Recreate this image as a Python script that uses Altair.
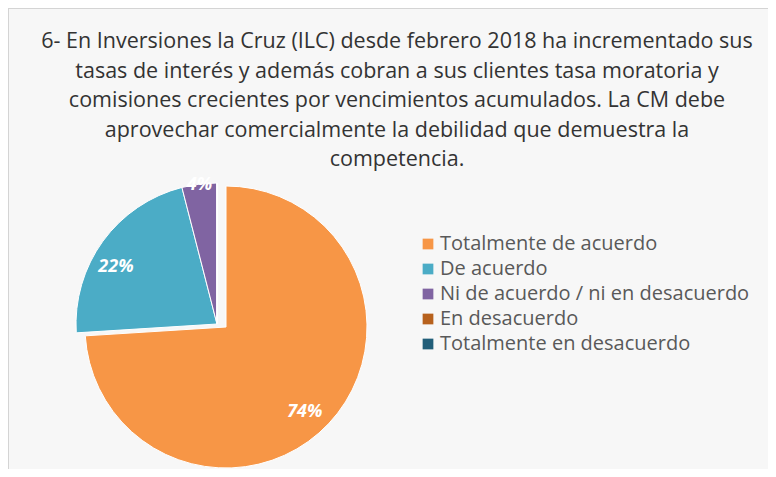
import altair as alt
import pandas as pd

categories = [
    "Totalmente de acuerdo",
    "De acuerdo",
    "Ni de acuerdo / ni en desacuerdo",
    "En desacuerdo",
    "Totalmente en desacuerdo",
]
values = [74, 22, 4, 0, 0]
labels = ["74%", "22%", "4%", "", ""]
colors = ["#F79646", "#4BACC6", "#8064A2", "#B7611D", "#215E79"]

title_lines = [
    "6- En Inversiones la Cruz (ILC) desde febrero 2018 ha incrementado sus",
    "tasas de interés y además cobran a sus clientes tasa moratoria y",
    "comisiones crecientes por vencimientos acumulados. La CM debe",
    "aprovechar comercialmente la debilidad que demuestra la",
    "competencia.",
]

df = pd.DataFrame({
    "cat": categories,
    "value": values,
    "label": labels,
    "order": list(range(len(categories))),
})

FONT = "Open Sans"
theta_scale = alt.Scale(domain=[0, 100])
color = alt.Color(
    "cat:N",
    scale=alt.Scale(domain=categories, range=colors),
    sort=categories,
    legend=alt.Legend(
        title=None,
        orient="none",
        legendX=410,
        legendY=226,
        symbolType="square",
        symbolSize=115,
        symbolStrokeWidth=0,
        symbolOpacity=1,
        labelFontSize=20,
        labelFont=FONT,
        labelColor="#595959",
        rowPadding=5,
        labelLimit=400,
        symbolOffset=0,
        labelOffset=2,
    ),
)

base = alt.Chart(df).transform_window(
    end="sum(value)", sort=[alt.SortField("order")], frame=[None, 0]
).transform_calculate(
    start="datum.end - datum.value",
    mid="(datum.end + datum.end - datum.value) / 2",
)

main_cx, main_cy = 209, 316
exp_cx, exp_cy = 218, 319
R = 141

arc_exp = base.transform_filter(alt.datum.order == 0).mark_arc(
    radius=R, stroke="white", strokeWidth=1
).encode(
    theta=alt.Theta("start:Q", scale=theta_scale),
    theta2="end:Q",
    color=color,
    x=alt.value(exp_cx),
    y=alt.value(exp_cy),
)

arc_main = base.transform_filter(alt.datum.order > 0).mark_arc(
    radius=R, stroke="white", strokeWidth=1
).encode(
    theta=alt.Theta("start:Q", scale=theta_scale),
    theta2="end:Q",
    color=color,
    x=alt.value(main_cx),
    y=alt.value(main_cy),
)

lab_style = dict(fontSize=18, fontWeight="bold", fontStyle="italic", color="white", font=FONT)

lab_exp = base.transform_filter(alt.datum.order == 0).mark_text(dx=-5, dy=6, **lab_style).encode(
    theta=alt.Theta("mid:Q", scale=theta_scale),
    radius=alt.value(115),
    text="label:N",
    x=alt.value(exp_cx),
    y=alt.value(exp_cy),
)
lab_teal = base.transform_filter(alt.datum.order == 1).mark_text(dx=-8, dy=11, **lab_style).encode(
    theta=alt.Theta("mid:Q", scale=theta_scale),
    radius=alt.value(115),
    text="label:N",
    x=alt.value(main_cx),
    y=alt.value(main_cy),
)
lab_purple = base.transform_filter(alt.datum.order == 2).mark_text(**lab_style).encode(
    theta=alt.Theta("mid:Q", scale=theta_scale),
    radius=alt.value(140),
    text="label:N",
    x=alt.value(main_cx),
    y=alt.value(main_cy),
)

title_df = pd.DataFrame({"line": title_lines, "i": list(range(len(title_lines)))})
title = alt.Chart(title_df).mark_text(
    fontSize=21.5, font=FONT, color="#333333", align="center", baseline="middle"
).encode(
    text="line:N",
    x=alt.value(389),
    y=alt.Y("i:Q", scale=alt.Scale(domain=[0, 4], range=[34, 152]), axis=None),
)

border = alt.Chart(df).mark_rule(color="#d4d4d4", strokeWidth=1).encode(
    x=alt.value(0.5), y=alt.value(0), y2=alt.value(461)
)
border_top = alt.Chart(df).mark_rule(color="#d4d4d4", strokeWidth=1).encode(
    x=alt.value(0), x2=alt.value(760), y=alt.value(0.5)
)

chart = alt.layer(border, border_top, title, arc_main, arc_exp, lab_exp, lab_teal, lab_purple).resolve_scale(
    y="independent"
).properties(
    width=760, height=461, padding=0, autosize="none", background="#f7f7f7"
).configure_view(stroke=None)

chart.save("out.html", embed_options={"renderer": "svg", "actions": False})
